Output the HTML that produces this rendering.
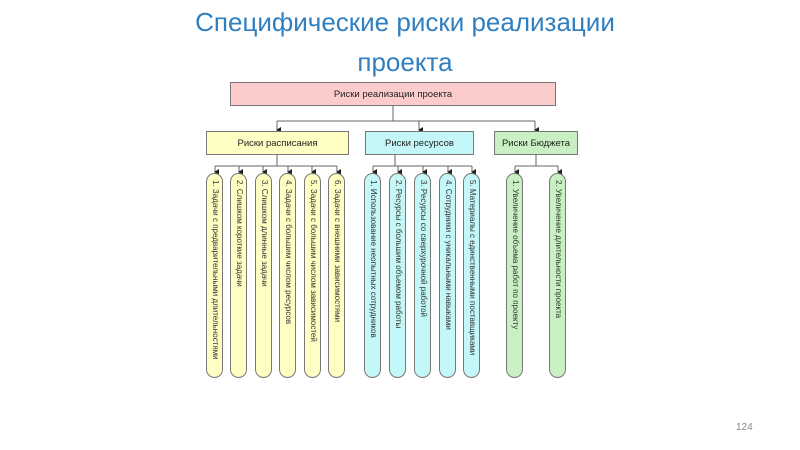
<!DOCTYPE html>
<html><head><meta charset="utf-8"><style>
body{margin:0;width:800px;height:450px;background:#fff;position:relative;overflow:hidden;font-family:"Liberation Sans",sans-serif}
.t{position:absolute;left:0;width:810px;text-align:center;color:#2f7fc1;font-size:26px;line-height:40px}
.b{position:absolute;border:1px solid #777;box-sizing:border-box;font-size:9.5px;color:#222;display:flex;align-items:center;justify-content:center}
.p{position:absolute;top:173px;width:17px;height:205px;border:1px solid #777;box-sizing:border-box;border-radius:9px}
.p span{position:absolute;left:13px;top:6px;transform-origin:0 0;transform:rotate(90deg);white-space:nowrap;font-size:8px;color:#333}
.y{background:#ffffc4}.c{background:#c4f7f7}.g{background:#c9f0c2}
</style></head><body>
<div class="t" style="top:2px">Специфические риски реализации</div>
<div class="t" style="top:42px">проекта</div>
<svg width="800" height="450" style="position:absolute;left:0;top:0">
<defs><marker id="a" markerWidth="6" markerHeight="6" refX="3" refY="5" orient="auto"><path d="M0,1 L6,1 L3,6z" fill="#222"/></marker></defs>
<g stroke="#666" stroke-width="1" fill="none">
<path d="M393,106V121M277,121H535"/>
<path d="M277,121V130" marker-end="url(#a)"/><path d="M419,121V130" marker-end="url(#a)"/><path d="M535,121V130" marker-end="url(#a)"/>
<path d="M277,155V166M215,166H337M395,155V166M373,166H472M536,155V166M515,166H558"/>
<path d="M215,166V172" marker-end="url(#a)"/><path d="M239,166V172" marker-end="url(#a)"/><path d="M263,166V172" marker-end="url(#a)"/><path d="M288,166V172" marker-end="url(#a)"/><path d="M312,166V172" marker-end="url(#a)"/><path d="M337,166V172" marker-end="url(#a)"/>
<path d="M373,166V172" marker-end="url(#a)"/><path d="M398,166V172" marker-end="url(#a)"/><path d="M423,166V172" marker-end="url(#a)"/><path d="M448,166V172" marker-end="url(#a)"/><path d="M472,166V172" marker-end="url(#a)"/>
<path d="M515,166V172" marker-end="url(#a)"/><path d="M558,166V172" marker-end="url(#a)"/>
</g></svg>
<div class="b" style="left:230px;top:82px;width:326px;height:24px;background:#fccccc">Риски реализации проекта</div>
<div class="b y" style="left:206px;top:131px;width:143px;height:24px">Риски расписания</div>
<div class="b c" style="left:365px;top:131px;width:109px;height:24px">Риски ресурсов</div>
<div class="b g" style="left:494px;top:131px;width:84px;height:24px">Риски Бюджета</div>
<div class="p y" style="left:206px"><span>1. Задачи с предварительными длительностями</span></div>
<div class="p y" style="left:230px"><span>2. Слишком короткие задачи</span></div>
<div class="p y" style="left:255px"><span>3. Слишком длинные задачи</span></div>
<div class="p y" style="left:279px"><span>4. Задачи с большим числом ресурсов</span></div>
<div class="p y" style="left:304px"><span>5. Задачи с большим числом зависимостей</span></div>
<div class="p y" style="left:328px"><span>6. Задачи с внешними зависимостями</span></div>
<div class="p c" style="left:364px"><span>1. Использование неопытных сотрудников</span></div>
<div class="p c" style="left:389px"><span>2. Ресурсы с большим объемом работы</span></div>
<div class="p c" style="left:414px"><span>3. Ресурсы со сверхурочной работой</span></div>
<div class="p c" style="left:439px"><span>4. Сотрудники с уникальными навыками</span></div>
<div class="p c" style="left:463px"><span>5. Материалы с единственными поставщиками</span></div>
<div class="p g" style="left:506px"><span>1. Увеличение объема работ по проекту</span></div>
<div class="p g" style="left:549px"><span>2. Увеличение длительности проекта</span></div>
<div style="position:absolute;left:736px;top:422px;font-size:10px;color:#888">124</div>
</body></html>
